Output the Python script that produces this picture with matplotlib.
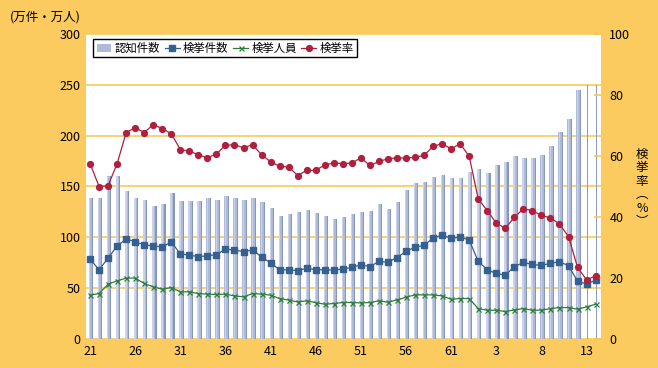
import matplotlib.pyplot as plt
import numpy as np
from matplotlib.patches import Patch
from matplotlib.lines import Line2D

plt.rcParams["font.family"] = ["Noto Sans CJK JP", "DejaVu Sans"]

# 昭和21年(1946) - 平成14年(2002)
years = list(range(1946, 2003))
tick_labels = ["21", "26", "31", "36", "41", "46", "51", "56", "61", "3", "8", "13"]

# 認知件数 (万件)
recognized = [
    138.5, 138.5, 159.9, 159.9, 146.0, 138.5, 137.2, 131.3, 132.3, 143.4,
    135.6, 135.6, 135.6, 138.5, 137.2, 140.2, 138.5, 137.2, 138.5, 134.6,
    129.3, 121.4, 123.4, 125.3, 127.3, 124.4, 121.4,
    118.1, 120.4, 123.0, 124.7, 126.3, 132.9, 128.0, 135.2, 146.1, 153.3,
    154.0, 158.9, 160.9, 157.9, 157.9, 163.8, 166.8, 162.9, 170.8, 173.7,
    179.6, 178.3, 177.7, 180.6, 189.5, 203.3, 216.0, 245.0, 250.0, 250.0,
]
# 検挙件数 (万件)
cleared = [
    78.6, 68.1, 79.6, 91.5, 98.4, 95.7, 92.6, 91.5, 90.6, 95.5,
    83.6, 82.6, 80.9, 81.9, 82.9, 88.5, 87.5, 85.9, 87.5, 80.9,
    74.7, 68.1, 68.1, 67.1, 69.8, 68.1, 68.1,
    67.8, 68.8, 70.4, 73.0, 71.2, 76.3, 75.6, 80.1, 86.2, 90.3,
    92.1, 99.4, 102.3, 99.0, 100.3, 97.4, 76.3, 68.1, 64.5, 62.8,
    71.1, 75.3, 73.4, 72.3, 74.5, 76.0, 72.1, 56.9, 54.0, 57.9,
]
# 検挙人員 (万人)
arrested = [
    43.1, 44.7, 54.0, 57.2, 59.9, 59.9, 54.6, 51.3, 49.0, 50.6,
    46.4, 46.4, 44.7, 44.1, 43.8, 44.1, 42.4, 41.5, 44.7, 44.1,
    43.1, 39.8, 38.2, 36.5, 37.5, 35.8, 34.2,
    34.9, 35.9, 35.9, 35.5, 35.9, 37.5, 36.2, 38.5, 41.1, 43.4,
    43.4, 43.4, 42.4, 39.1, 39.8, 39.8, 29.9, 28.3, 28.3, 27.0,
    28.6, 29.9, 28.3, 28.4, 29.9, 30.9, 30.9, 29.3, 31.6, 34.2,
]
# 検挙率 (%)
rate = [
    57.5, 50.0, 50.3, 57.5, 67.7, 69.3, 67.7, 70.3, 69.0, 67.3,
    62.1, 61.6, 60.4, 59.4, 60.7, 63.5, 63.7, 62.7, 63.7, 60.4,
    58.1, 56.6, 56.4, 53.6, 55.3, 55.3, 57.1,
    57.7, 57.5, 57.7, 59.4, 56.9, 58.2, 59.1, 59.4, 59.3, 59.6,
    60.2, 63.2, 64.0, 62.4, 64.0, 59.9, 45.9, 42.1, 38.0, 36.3,
    39.9, 42.7, 42.1, 40.5, 39.7, 37.7, 33.6, 23.5, 19.4, 20.7,
]

BG = "#FCCB5F"
GRID = "#F8C54A"
BLUE = "#35608F"
GREEN = "#2E7D38"
RED = "#B01F3E"

x = np.arange(len(years))
rec = np.array(recognized)
capped = rec >= 250

fig = plt.figure(figsize=(6.58, 3.68), dpi=100, facecolor=BG)
ax = fig.add_axes([86 / 658, 29 / 368, 515 / 658, 305 / 368])
ax.set_facecolor("white")

# bars with a rough left-to-right shading
bx = x[~capped] + 0.12
bh = rec[~capped]
ax.bar(bx, bh, width=0.48, color="#AEBAD8", linewidth=0, zorder=2)
ax.bar(bx - 0.15, bh, width=0.14, color="#CBD3EA", linewidth=0, zorder=2)
ax.bar(bx + 0.18, bh, width=0.12, color="#8797BA", linewidth=0, zorder=2)
# the last bars are drawn as thin lines in the original
ax.bar(x[capped] + 0.1, rec[capped], width=0.14, color="#8E9CBA", linewidth=0, zorder=2)

ax.plot(x, cleared, color=BLUE, lw=0.9, marker="s", ms=4, zorder=4)
ax.plot(x, arrested, color=GREEN, lw=0.9, marker="x", ms=3.6, mew=0.9, zorder=4)

ax.set_xlim(-0.45, 56.6)
ax.set_ylim(0, 300)
ax.set_yticks(range(0, 301, 50))
ax.set_xticks(x[::5])
ax.set_xticklabels(tick_labels)
ax.set_axisbelow(True)
ax.yaxis.grid(True, color=GRID, lw=1.1)
ax.tick_params(axis="both", length=0, labelsize=9, pad=4)
for s in ax.spines.values():
    s.set_visible(False)

ax2 = ax.twinx()
ax2.plot(x, rate, color=RED, lw=0.9, marker="o", ms=4.2, zorder=5)
ax2.set_ylim(0, 100)
ax2.set_yticks(range(0, 101, 20))
ax2.tick_params(axis="y", direction="in", length=5, color=GRID, width=1.1, labelsize=9, pad=6)
for s in ax2.spines.values():
    s.set_visible(False)

handles = [
    Patch(facecolor="#AEBAD8", edgecolor="none"),
    Line2D([], [], color=BLUE, lw=0.9, marker="s", ms=4),
    Line2D([], [], color=GREEN, lw=0.9, marker="x", ms=3.6, mew=0.9),
    Line2D([], [], color=RED, lw=0.9, marker="o", ms=4.2),
]
leg = ax2.legend(handles, ["認知件数", "検挙件数", "検挙人員", "検挙率"],
                 loc="upper left", bbox_to_anchor=(0.014, 0.984), ncol=4,
                 frameon=True, fancybox=False, framealpha=1, edgecolor="black",
                 fontsize=8.2, handlelength=1.3, handletextpad=0.3,
                 columnspacing=0.4, borderpad=0.3, borderaxespad=0)
leg.get_frame().set_linewidth(1.0)

fig.text(10 / 658, 1 - 17 / 368, "(万件・万人)", ha="left", va="center", fontsize=9)
fig.text(642 / 658, 1 - 188 / 368, "検\n挙\n率\n︵\n%\n︶", ha="center", va="center",
         fontsize=9, linespacing=1.05)

fig.savefig("out.png", dpi=100, facecolor=BG)
